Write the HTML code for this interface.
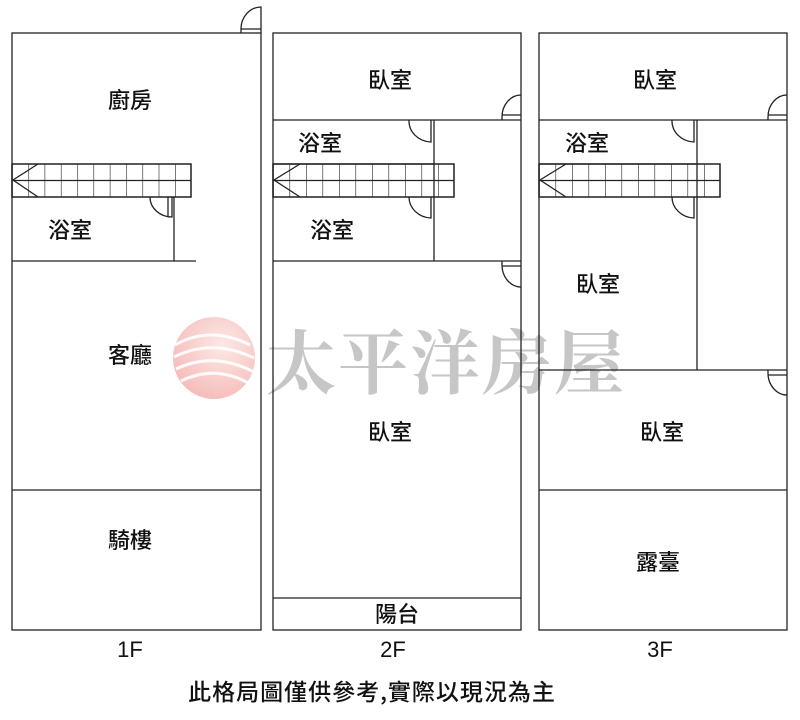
<!DOCTYPE html>
<html><head><meta charset="utf-8"><style>
html,body{margin:0;padding:0;background:#fff;width:800px;height:720px;overflow:hidden}
svg{display:block}
.l{font-family:"Noto Sans CJK TC","Noto Sans CJK SC",sans-serif;font-size:22px;fill:#111;text-anchor:middle;font-weight:500}
.f{font-family:"Liberation Sans","Noto Sans CJK TC",sans-serif;font-size:22px;fill:#111;text-anchor:middle}
.n{font-family:"Noto Sans CJK TC","Noto Sans CJK SC",sans-serif;font-size:23px;fill:#111;text-anchor:middle;font-weight:500;letter-spacing:1px}
</style></head><body>
<svg width="800" height="720" viewBox="0 0 800 720" xmlns="http://www.w3.org/2000/svg">
<defs>
<pattern id="g1" x="12" y="164" width="16.3" height="33" patternUnits="userSpaceOnUse"><path d="M0,0V33" stroke="#222" stroke-width="1.2" fill="none"/></pattern>
<pattern id="g2" x="273" y="164" width="16.5" height="33" patternUnits="userSpaceOnUse"><path d="M0,0V33" stroke="#222" stroke-width="1.2" fill="none"/></pattern>
<pattern id="g3" x="539" y="164" width="16.5" height="33" patternUnits="userSpaceOnUse"><path d="M0,0V33" stroke="#222" stroke-width="1.2" fill="none"/></pattern>
<radialGradient id="rg" cx="0.6" cy="0.35" r="0.7"><stop offset="0" stop-color="#fbe3df"/><stop offset="1" stop-color="#f2aaa8"/></radialGradient>
</defs>

<circle cx="214" cy="358" r="41" fill="url(#rg)" opacity="0.8"/>
<g stroke="#fff" stroke-width="3" fill="none" opacity="0.9">
<path d="M175,345 Q210,325 250,345"/><path d="M174,357 Q212,338 254,358"/><path d="M176,369 Q214,351 254,372"/><path d="M181,381 Q216,364 250,384"/>
</g>
<text x="446" y="388" font-family="'Noto Serif CJK SC','Noto Serif CJK TC',serif" font-size="70" font-weight="bold" fill="#c6c6c6" text-anchor="middle" letter-spacing="2">太平洋房屋</text>

<g stroke="#222" stroke-width="1.3" fill="none">
<rect x="12" y="33" width="249" height="597"/>
<line x1="12" y1="490" x2="261" y2="490"/>
<line x1="12" y1="261" x2="196" y2="261"/>
<line x1="174" y1="197" x2="174" y2="261"/>
<rect x="12" y="164" width="179" height="33" fill="url(#g1)"/>
<rect x="12" y="164" width="179" height="33"/>
<line x1="12" y1="180.5" x2="191" y2="180.5"/>
<path d="M38,164 L13,180 L38,197"/>
<path d="M261,33 V7 A20,22 0 0 0 241,29 V33 M241,29 H261"/>
<path d="M150,197 A22,20 0 0 0 172,217 V197 M168,197 V217"/>

<rect x="273" y="33" width="248" height="597"/>
<line x1="273" y1="120" x2="521" y2="120"/>
<line x1="273" y1="261" x2="521" y2="261"/>
<line x1="273" y1="598" x2="521" y2="598"/>
<line x1="434" y1="120" x2="434" y2="261"/>
<line x1="273" y1="164" x2="434" y2="164"/>
<rect x="273" y="164" width="181" height="33" fill="url(#g2)"/>
<rect x="273" y="164" width="181" height="33"/>
<line x1="273" y1="180.5" x2="454" y2="180.5"/>
<path d="M300,164 L274,180 L300,197"/>
<path d="M521,95 A19,22 0 0 0 502,117 V120 M502,115 H521"/>
<path d="M521,287 A19,22 0 0 1 502,265 V261 M502,266 H521"/>
<path d="M409,120 A23,21 0 0 0 431,142 V120"/>
<path d="M409,197 A23,21 0 0 0 431,218 V197"/>

<rect x="539" y="33" width="248" height="597"/>
<line x1="539" y1="120" x2="787" y2="120"/>
<line x1="539" y1="370" x2="787" y2="370"/>
<line x1="539" y1="490" x2="787" y2="490"/>
<line x1="697" y1="120" x2="697" y2="370"/>
<line x1="539" y1="164" x2="697" y2="164"/>
<rect x="539" y="164" width="181" height="33" fill="url(#g3)"/>
<rect x="539" y="164" width="181" height="33"/>
<line x1="539" y1="180.5" x2="720" y2="180.5"/>
<path d="M566,164 L540,180 L566,197"/>
<path d="M787,95 A19,22 0 0 0 768,117 V120 M768,115 H787"/>
<path d="M787,395 A19,22 0 0 1 768,373 V370 M768,375 H787"/>
<path d="M672,120 A23,21 0 0 0 694,142 V120"/>
<path d="M672,197 A23,21 0 0 0 694,218 V197"/>
</g>

<text class="l" x="130" y="108">廚房</text>
<text class="l" x="70" y="238">浴室</text>
<text class="l" x="130" y="363">客廳</text>
<text class="l" x="130" y="548">騎樓</text>
<text class="l" x="390" y="88">臥室</text>
<text class="l" x="320" y="151">浴室</text>
<text class="l" x="332" y="238">浴室</text>
<text class="l" x="390" y="440">臥室</text>
<text class="l" x="397" y="622">陽台</text>
<text class="l" x="655" y="88">臥室</text>
<text class="l" x="587" y="151">浴室</text>
<text class="l" x="598" y="292">臥室</text>
<text class="l" x="662" y="440">臥室</text>
<text class="l" x="658" y="570">露臺</text>
<text class="f" x="130" y="657">1F</text>
<text class="f" x="393" y="657">2F</text>
<text class="f" x="660" y="657">3F</text>
<text class="n" x="372" y="700">此格局圖僅供參考,實際以現況為主</text>
</svg>
</body></html>
